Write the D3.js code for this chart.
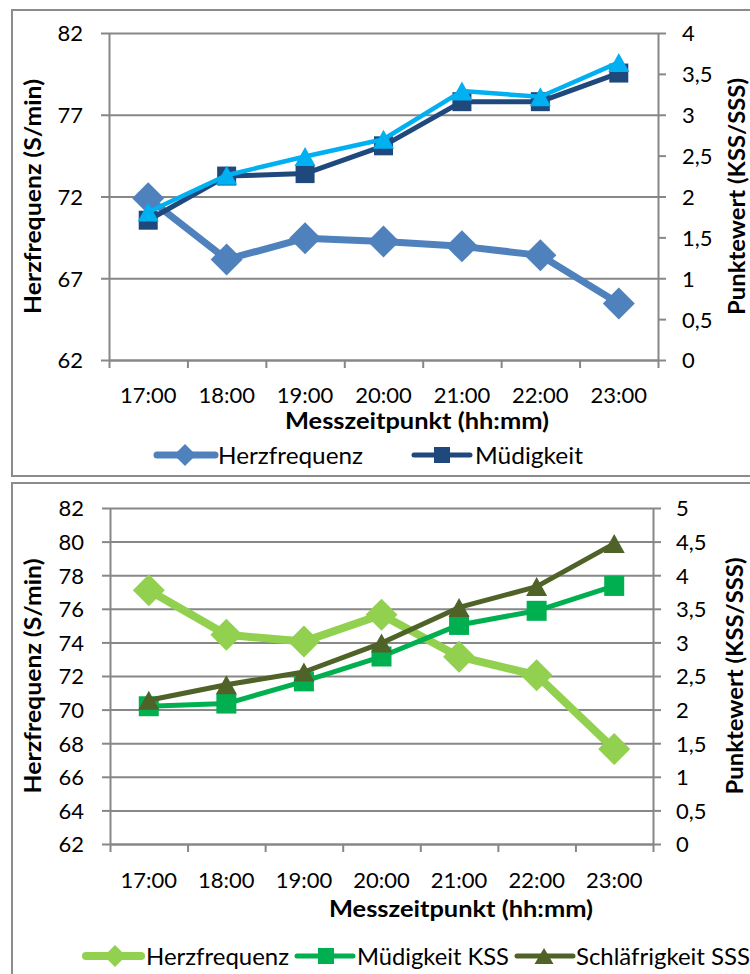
<!DOCTYPE html>
<html>
<head>
<meta charset="utf-8">
<script src="https://cdn.jsdelivr.net/npm/d3@7"></script>
<style>
  html, body { margin: 0; padding: 0; background: #fff; }
  svg { display: block; font-family: Lato, "Noto Sans", sans-serif; }
</style>
</head>
<body>
<svg id="chart" width="750" height="974"></svg>
<script>
// ---------- data ----------
const times = ["17:00", "18:00", "19:00", "20:00", "21:00", "22:00", "23:00"];

// Chart 1
const herzfrequenz1 = [71.9, 68.15, 69.45, 69.25, 68.95, 68.4, 65.45];
const muedigkeit1 = [1.71, 2.25, 2.28, 2.62, 3.16, 3.16, 3.51];
const schlaefrigkeit1 = [1.81, 2.26, 2.49, 2.70, 3.29, 3.22, 3.64];
const leftTicks1 = [62, 67, 72, 77, 82];
const rightTicks1 = [0, 0.5, 1, 1.5, 2, 2.5, 3, 3.5, 4];

// Chart 2
const herzfrequenz2 = [77.1, 74.45, 74.05, 75.65, 73.15, 72.05, 67.65];
const muedigkeitKSS2 = [2.05, 2.09, 2.42, 2.79, 3.26, 3.47, 3.84];
const schlaefrigkeitSSS2 = [2.14, 2.37, 2.56, 2.99, 3.52, 3.83, 4.47];
const leftTicks2 = [62, 64, 66, 68, 70, 72, 74, 76, 78, 80, 82];
const rightTicks2 = [0, 0.5, 1, 1.5, 2, 2.5, 3, 3.5, 4, 4.5, 5];

const leftTitle = "Herzfrequenz (S/min)";
const rightTitle = "Punktewert (KSS/SSS)";
const xTitle = "Messzeitpunkt (hh:mm)";

// ---------- helpers ----------
const GRID = "#878787";
const FONT = "Lato, 'Noto Sans', sans-serif";
const fmt = v => String(v).replace(".", ",");

function markerPath(type, a, b) {
  const p = d3.path();
  if (type === "diamond") {
    p.moveTo(0, -a); p.lineTo(a, 0); p.lineTo(0, a); p.lineTo(-a, 0); p.closePath();
  } else if (type === "square") {
    p.rect(-a / 2, -a / 2, a, a);
  } else {
    p.moveTo(0, -b / 2); p.lineTo(a / 2, b / 2); p.lineTo(-a / 2, b / 2); p.closePath();
  }
  return p.toString();
}

const svg = d3.select("#chart");

function drawPanel(cfg) {
  const g = svg.append("g");
  // panel frame
  g.append("rect")
    .attr("x", cfg.frame[0]).attr("y", cfg.frame[1])
    .attr("width", cfg.frame[2]).attr("height", cfg.frame[3])
    .attr("fill", "none").attr("stroke", "#8c8c8c").attr("stroke-width", 2);

  const yL = d3.scaleLinear().domain(cfg.leftDomain).range([cfg.bottom, cfg.top]);
  const yR = d3.scaleLinear().domain(cfg.rightDomain).range([cfg.bottom, cfg.top]);
  const xB = d3.scaleBand().domain(times).range([cfg.left, cfg.right]);
  const xEdges = d3.scaleLinear().domain([0, times.length]).range([cfg.left, cfg.right]);

  // gridlines
  g.append("g").attr("transform", `translate(${cfg.left},0)`)
    .call(d3.axisLeft(yL).tickValues(cfg.leftTicks).tickSize(-(cfg.right - cfg.left)).tickFormat(""))
    .call(s => s.select(".domain").remove())
    .call(s => s.selectAll("line").attr("stroke", GRID).attr("stroke-width", 2));

  // left axis
  const la = g.append("g").attr("transform", `translate(${cfg.left},0)`)
    .call(d3.axisLeft(yL).tickValues(cfg.leftTicks).tickSizeInner(8).tickSizeOuter(0).tickPadding(18).tickFormat(fmt));
  la.select(".domain").attr("stroke", GRID).attr("stroke-width", 2);
  la.selectAll("line").attr("stroke", GRID).attr("stroke-width", 2);
  la.selectAll("text").attr("font-size", 22).attr("fill", "#000").attr("dy", "0.36em")
    .attr("font-family", FONT);

  // right axis
  const ra = g.append("g").attr("transform", `translate(${cfg.right},0)`)
    .call(d3.axisRight(yR).tickValues(cfg.rightTicks).tickSizeInner(8).tickSizeOuter(0).tickPadding(cfg.rightPad).tickFormat(fmt));
  ra.select(".domain").attr("stroke", GRID).attr("stroke-width", 2);
  ra.selectAll("line").attr("stroke", GRID).attr("stroke-width", 2);
  ra.selectAll("text").attr("font-size", 22).attr("fill", "#000").attr("dy", "0.36em")
    .attr("font-family", FONT);

  // bottom axis: boundary ticks
  const ba = g.append("g").attr("transform", `translate(0,${cfg.bottom})`)
    .call(d3.axisBottom(xEdges).tickValues(d3.range(times.length + 1)).tickSizeInner(8).tickSizeOuter(0).tickFormat(""));
  ba.select(".domain").attr("stroke", GRID).attr("stroke-width", 2);
  ba.selectAll("line").attr("stroke", GRID).attr("stroke-width", 2);

  // bottom labels
  const bl = g.append("g").attr("transform", `translate(0,${cfg.bottom})`)
    .call(d3.axisBottom(xB).tickSize(0).tickPadding(0));
  bl.select(".domain").remove();
  bl.selectAll("text").attr("font-size", 22).attr("fill", "#000")
    .attr("y", cfg.xLabelBase - cfg.bottom).attr("dy", null).attr("font-family", FONT);

  // titles
  g.append("text").attr("transform", `translate(${cfg.leftTitleX},${(cfg.top + cfg.bottom) / 2}) rotate(-90)`)
    .attr("text-anchor", "middle").attr("font-weight", "bold").attr("font-size", 22)
    .attr("textLength", 235).attr("lengthAdjust", "spacingAndGlyphs").text(leftTitle);
  g.append("text").attr("transform", `translate(${cfg.rightTitleX},${(cfg.top + cfg.bottom) / 2}) rotate(-90)`)
    .attr("text-anchor", "middle").attr("font-weight", "bold").attr("font-size", 22)
    .attr("textLength", 237).attr("lengthAdjust", "spacingAndGlyphs").text(rightTitle);
  g.append("text").attr("x", cfg.xTitleX).attr("y", cfg.xTitleBase)
    .attr("font-weight", "bold").attr("font-size", 22)
    .attr("textLength", 264).attr("lengthAdjust", "spacingAndGlyphs").text(xTitle);

  // series
  cfg.series.forEach(s => {
    const y = s.axis === "left" ? yL : yR;
    const line = d3.line().x((d, i) => xB(times[i]) + xB.bandwidth() / 2).y(d => y(d));
    g.append("path").datum(s.values).attr("d", line)
      .attr("fill", "none").attr("stroke", s.color).attr("stroke-width", s.width)
      .attr("stroke-linejoin", "round").attr("stroke-linecap", "round");
    g.selectAll(null).data(s.values).enter().append("path")
      .attr("transform", (d, i) => `translate(${xB(times[i]) + xB.bandwidth() / 2},${y(d)})`)
      .attr("d", markerPath(s.marker, s.ma, s.mb)).attr("fill", s.color);
  });

  // legend
  cfg.legend.forEach(l => {
    const s = cfg.series[l.idx];
    g.append("line").attr("x1", l.x0).attr("x2", l.x1).attr("y1", cfg.legendY).attr("y2", cfg.legendY)
      .attr("stroke", s.color).attr("stroke-width", s.width).attr("stroke-linecap", "round");
    g.append("path").attr("transform", `translate(${(l.mx)},${cfg.legendY})`)
      .attr("d", markerPath(s.marker, l.ma, l.mb)).attr("fill", s.color);
    g.append("text").attr("x", l.tx).attr("y", cfg.legendY + 8.5).attr("font-size", 24)
      .attr("textLength", l.tw).attr("lengthAdjust", "spacingAndGlyphs").text(s.name);
  });
}

drawPanel({
  frame: [12, 10, 760, 466],
  left: 109, right: 658, top: 33, bottom: 360,
  leftDomain: [62, 82], rightDomain: [0, 4],
  leftTicks: leftTicks1, rightTicks: rightTicks1, rightPad: 16,
  xLabelBase: 403, xTitleX: 285, xTitleBase: 429,
  leftTitleX: 41, rightTitleX: 745,
  legendY: 455,
  series: [
    { name: "Herzfrequenz", values: herzfrequenz1, axis: "left", color: "#4F81BD", width: 7, marker: "diamond", ma: 16 },
    { name: "Müdigkeit", values: muedigkeit1, axis: "right", color: "#1F497D", width: 5, marker: "square", ma: 19 },
    { name: "Schläfrigkeit", values: schlaefrigkeit1, axis: "right", color: "#00B0F0", width: 4.5, marker: "triangle", ma: 21, mb: 19 }
  ],
  legend: [
    { idx: 0, x0: 157, x1: 215, mx: 185, tx: 218, ma: 11, tw: 145 },
    { idx: 1, x0: 414, x1: 470, mx: 442, tx: 475, ma: 16, tw: 108 }
  ]
});

drawPanel({
  frame: [12, 483, 760, 520],
  left: 110, right: 653, top: 508, bottom: 844,
  leftDomain: [62, 82], rightDomain: [0, 5],
  leftTicks: leftTicks2, rightTicks: rightTicks2, rightPad: 15,
  xLabelBase: 888, xTitleX: 329, xTitleBase: 917,
  leftTitleX: 41, rightTitleX: 743,
  legendY: 956,
  series: [
    { name: "Herzfrequenz", values: herzfrequenz2, axis: "left", color: "#92D050", width: 8, marker: "diamond", ma: 16 },
    { name: "Müdigkeit KSS", values: muedigkeitKSS2, axis: "right", color: "#00B050", width: 5, marker: "square", ma: 20 },
    { name: "Schläfrigkeit SSS", values: schlaefrigkeitSSS2, axis: "right", color: "#4F6228", width: 5, marker: "triangle", ma: 21, mb: 19 }
  ],
  legend: [
    { idx: 0, x0: 86, x1: 141, mx: 115, tx: 146, ma: 11, tw: 143 },
    { idx: 1, x0: 297, x1: 353, mx: 326, tx: 357, ma: 16, tw: 152 },
    { idx: 2, x0: 517, x1: 573, mx: 544, tx: 576, ma: 19, mb: 16, tw: 174 }
  ]
});
</script>
</body>
</html>
